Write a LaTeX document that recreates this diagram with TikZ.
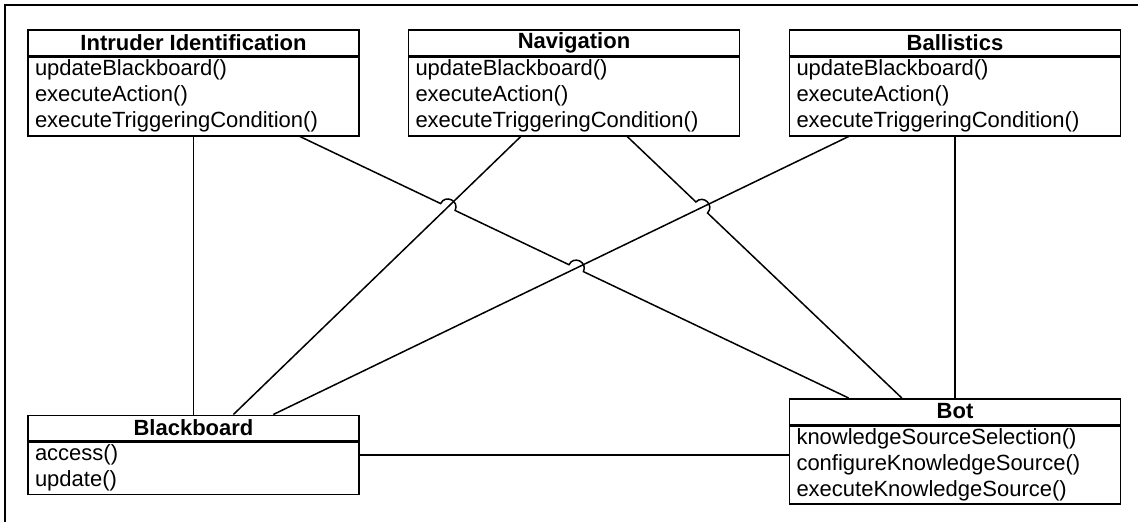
\documentclass[tikz,border=0pt]{standalone}
\usepackage{fontspec}
\setmainfont{Liberation Sans}
\usetikzlibrary{positioning,calc}

\tikzset{
  head/.style={draw,line width=1.5pt,minimum width=331pt,minimum height=25.5pt,inner sep=0pt,font=\fontsize{22}{26}\selectfont\bfseries},
  body/.style={draw,line width=1.5pt,text width=317pt,inner xsep=7pt,inner ysep=0pt,align=left,font=\fontsize{22}{26}\selectfont},
  link/.style={line width=1.5pt},
  hop/.style={bend left=90,looseness=1.7}
}

\begin{document}
\begin{tikzpicture}[x=1pt,y=-1pt]
\useasboundingbox (0,0) rectangle (1138,522);
\draw[line width=2.2pt] (5,530) -- (5,5) -- (1145,5);
% knowledge sources
\node[head] (intrH) at (193.5,42.5) {Intruder Identification};
\node[body,minimum height=79pt,below=0pt of intrH] (intr) {updateBlackboard()\\executeAction()\\executeTriggeringCondition()};
\node[head] (navH) at (574,42.5) {Navigation};
\node[body,minimum height=79pt,below=0pt of navH] (nav) {updateBlackboard()\\executeAction()\\executeTriggeringCondition()};
\node[head] (ballH) at (955,42.5) {Ballistics};
\node[body,minimum height=79pt,below=0pt of ballH] (ball) {updateBlackboard()\\executeAction()\\executeTriggeringCondition()};
% blackboard and controller
\node[head] (boardH) at (193.5,428) {Blackboard};
\node[body,minimum height=52pt,below=0pt of boardH] (board) {access()\\update()};
\node[head] (botH) at (955,411.5) {Bot};
\node[body,minimum height=78pt,below=0pt of botH] (bot) {knowledgeSourceSelection()\\configureKnowledgeSource()\\executeKnowledgeSource()};
% end points
\coordinate (ia) at ($(intr.south west)!0.82!(intr.south east)$);
\coordinate (na) at ($(nav.south west)!0.34!(nav.south east)$);
\coordinate (nb) at ($(nav.south west)!0.66!(nav.south east)$);
\coordinate (ba) at ($(ball.south west)!0.18!(ball.south east)$);
\coordinate (boa) at ($(boardH.north west)!0.62!(boardH.north east)$);
\coordinate (bob) at ($(boardH.north west)!0.74!(boardH.north east)$);
\coordinate (bta) at ($(botH.north west)!0.18!(botH.north east)$);
\coordinate (btb) at ($(botH.north west)!0.34!(botH.north east)$);
\coordinate (bm) at ($(boardH.north east)!0.5!(board.south east)$);
% crossings
\coordinate (x1) at (intersection of ia--bta and na--boa);
\coordinate (x2) at (intersection of ia--bta and ba--bob);
\coordinate (x3) at (intersection of nb--btb and ba--bob);
\draw[link] (intr.south) -- (boardH.north);
\draw[link] (ball.south) -- (botH.north);
\draw[link] (na) -- (boa);
\draw[link] (ba) -- (bob);
\draw[link] (ia) -- ($(x1)!8pt!(ia)$) to[hop] ($(x1)!8pt!(bta)$)
  -- ($(x2)!8pt!(ia)$) to[hop] ($(x2)!8pt!(bta)$) -- (bta);
\draw[link] (nb) -- ($(x3)!8pt!(nb)$) to[hop] ($(x3)!8pt!(btb)$) -- (btb);
\draw[link] (bm) -- (bm -| bot.west);
\end{tikzpicture}
\end{document}
